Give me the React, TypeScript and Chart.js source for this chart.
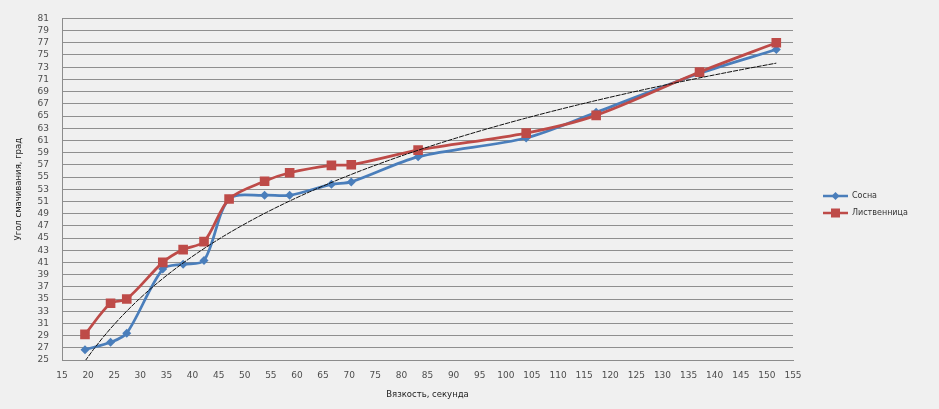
import React, { useEffect, useRef } from "react";
import { Chart, registerables } from "chart.js";

Chart.register(...registerables);

const viscosity = [19.4, 24.3, 27.4, 34.3, 38.2, 42.2, 47.0, 53.8, 58.6, 66.6, 70.4, 83.2, 103.9, 117.3, 137.1, 151.8];
const sosna = [26.7, 27.9, 29.4, 39.9, 40.7, 41.3, 51.4, 52.0, 52.0, 53.8, 54.2, 58.3, 61.4, 65.6, 72.0, 75.9];
const listvennitsa = [29.2, 34.3, 35.0, 41.0, 43.1, 44.4, 51.4, 54.3, 55.7, 56.9, 57.0, 59.4, 62.2, 65.1, 72.2, 77.0];
const seriesNames = ["Сосна", "Лиственница"];
const xTitle = "Вязкость, секунда";
const yTitle = "Угол смачивания, град";

const BLUE = "#4a7ebb";
const RED = "#be4b48";
const FONT = "'DejaVu Sans', sans-serif";

// logarithmic least-squares trend fitted to the "Сосна" series
function logTrend(xs: number[], ys: number[]) {
  const n = xs.length;
  let sl = 0, sy = 0, sll = 0, sly = 0;
  for (let i = 0; i < n; i++) {
    const l = Math.log(xs[i]);
    sl += l; sy += ys[i]; sll += l * l; sly += l * ys[i];
  }
  const b = (n * sly - sl * sy) / (n * sll - sl * sl);
  const a = (sy - b * sl) / n;
  const x0 = Math.min(...xs), x1 = Math.max(...xs);
  const pts: { x: number; y: number }[] = [];
  const steps = 80;
  for (let i = 0; i <= steps; i++) {
    const x = x0 + ((x1 - x0) * i) / steps;
    pts.push({ x, y: a + b * Math.log(x) });
  }
  return pts;
}

const legendPlugin = {
  id: "customLegend",
  afterDraw(chart: any) {
    const ctx = chart.ctx;
    const items = [
      { name: seriesNames[0], color: BLUE, y: 196, shape: "diamond" },
      { name: seriesNames[1], color: RED, y: 213, shape: "square" },
    ];
    ctx.save();
    for (const it of items) {
      ctx.strokeStyle = it.color;
      ctx.lineWidth = 2.5;
      ctx.beginPath();
      ctx.moveTo(823, it.y);
      ctx.lineTo(848, it.y);
      ctx.stroke();
      ctx.fillStyle = it.color;
      ctx.beginPath();
      if (it.shape === "diamond") {
        ctx.moveTo(835.5, it.y - 4);
        ctx.lineTo(839.5, it.y);
        ctx.lineTo(835.5, it.y + 4);
        ctx.lineTo(831.5, it.y);
        ctx.closePath();
      } else {
        ctx.rect(831, it.y - 4.5, 9, 9);
      }
      ctx.fill();
      ctx.fillStyle = "#333";
      ctx.font = `8px ${FONT}`;
      ctx.textBaseline = "middle";
      ctx.textAlign = "left";
      ctx.fillText(it.name, 852, it.y);
    }
    ctx.restore();
  },
};

const bgPlugin = {
  id: "bg",
  beforeDraw(chart: any) {
    const ctx = chart.ctx;
    ctx.save();
    ctx.fillStyle = "#f0f0f0";
    ctx.fillRect(0, 0, chart.width, chart.height);
    ctx.restore();
  },
};

export default function App() {
  const ref = useRef<HTMLCanvasElement | null>(null);
  useEffect(() => {
    if (!ref.current) return;
    const chart = new Chart(ref.current, {
      type: "line",
      data: {
        datasets: [
          {
            label: "trend",
            data: logTrend(viscosity, sosna),
            borderColor: "#111",
            borderWidth: 1,
            borderDash: [5, 1],
            pointRadius: 0,
            tension: 0,
            order: -1,
          },
          {
            label: seriesNames[1],
            data: viscosity.map((x, i) => ({ x, y: listvennitsa[i] })),
            borderColor: RED,
            backgroundColor: RED,
            borderWidth: 2.75,
            pointStyle: "rect",
            pointRadius: 6.8,
            pointBorderWidth: 0,
            tension: 0.3,
            order: 0,
          },
          {
            label: seriesNames[0],
            data: viscosity.map((x, i) => ({ x, y: sosna[i] })),
            borderColor: BLUE,
            backgroundColor: BLUE,
            borderWidth: 2.75,
            pointStyle: "rectRot",
            pointRadius: 4.5,
            pointBorderWidth: 0,
            tension: 0.3,
            order: 1,
          },
        ],
      },
      options: {
        animation: false,
        responsive: false,
        layout: { padding: { left: 0, top: 10, right: 146, bottom: 0 } },
        plugins: { legend: { display: false }, tooltip: { enabled: false } },
        scales: {
          x: {
            type: "linear",
            min: 15,
            max: 155,
            grid: { display: false, drawTicks: false },
            border: { display: true, color: "#8c8c8c", width: 1 },
            ticks: {
              stepSize: 5,
              autoSkip: false,
              maxRotation: 0,
              padding: 10,
              color: "#4d4d4d",
              font: { family: FONT, size: 9 },
            },
            title: {
              display: true,
              text: xTitle,
              color: "#222",
              font: { family: FONT, size: 8.5 },
              padding: { top: 0, bottom: 9 },
            },
            afterFit: (s: any) => {
              s.height = 49;
            },
          },
          y: {
            min: 25,
            max: 81,
            grid: { color: "#8f8f8f", lineWidth: 1, drawTicks: false },
            border: { display: true, color: "#8c8c8c", width: 1 },
            ticks: {
              stepSize: 2,
              autoSkip: false,
              padding: 13,
              color: "#4d4d4d",
              font: { family: FONT, size: 9 },
            },
            title: {
              display: true,
              text: yTitle,
              color: "#222",
              font: { family: FONT, size: 8.5 },
              padding: { top: 14, bottom: 0 },
            },
            afterFit: (s: any) => {
              s.width = 62;
            },
          },
        },
      },
      plugins: [bgPlugin, legendPlugin],
    } as any);
    return () => chart.destroy();
  }, []);
  return (
    <div style={{ position: "fixed", left: 0, top: 0, width: 939, height: 409, background: "#f0f0f0" }}>
      <canvas ref={ref} width={939} height={409} style={{ display: "block", width: 939, height: 409 }} />
    </div>
  );
}
